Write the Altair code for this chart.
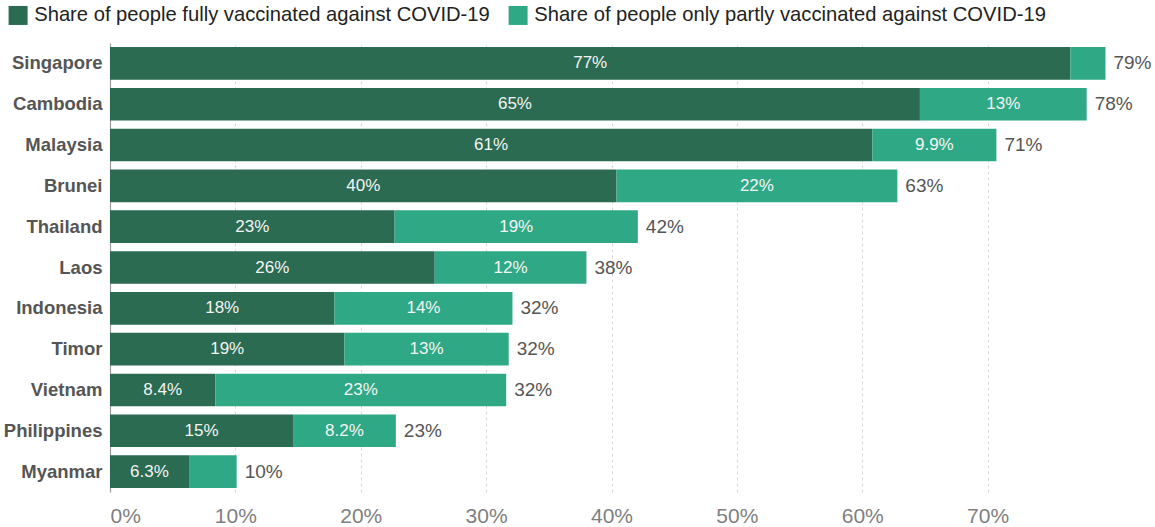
import altair as alt
import pandas as pd

countries = ["Singapore", "Cambodia", "Malaysia", "Brunei", "Thailand", "Laos",
             "Indonesia", "Timor", "Vietnam", "Philippines", "Myanmar"]
fully = [76.6, 64.6, 60.8, 40.4, 22.7, 25.9, 17.9, 18.7, 8.4, 14.6, 6.3]
partly = [2.8, 13.3, 9.9, 22.4, 19.4, 12.1, 14.2, 13.1, 23.2, 8.2, 3.8]
series_names = ["Share of people fully vaccinated against COVID-19",
                "Share of people only partly vaccinated against COVID-19"]
colors = ["#2a6b52", "#2fa985"]
x_ticks = [0, 10, 20, 30, 40, 50, 60, 70]

rows = []
for c, f, p in zip(countries, fully, partly):
    rows.append({"country": c, "series": series_names[0], "value": f, "start": 0.0,
                 "order": 0, "total": f + p})
    rows.append({"country": c, "series": series_names[1], "value": p, "start": f,
                 "order": 1, "total": f + p})
df = pd.DataFrame(rows)
df["end"] = df["start"] + df["value"]
df["mid"] = df["start"] + df["value"] / 2

FONT = "Liberation Sans"
W, H = 1003, 449

y_enc = alt.Y("country:N", sort=countries, title=None,
              scale=alt.Scale(paddingInner=0.2, paddingOuter=0.1),
              axis=alt.Axis(labelFont=FONT, labelFontWeight="bold", labelFontSize=18.5,
                            labelColor="#555555", labelPadding=8, ticks=False,
                            domain=True, domainColor="#9a9a9a", domainWidth=1.2,
                            grid=False))
x_scale = alt.Scale(domain=[0, 80], nice=False)

base = alt.Chart(df)

bars = base.mark_bar().encode(
    y=y_enc,
    x=alt.X("start:Q", scale=x_scale, title=None,
            axis=alt.Axis(values=x_ticks, labelExpr="datum.value + '%'",
                          labelFont=FONT, labelFontSize=21, labelColor="#808080",
                          labelPadding=13, labelFlush=True, ticks=False, domain=False,
                          grid=True, gridDash=[3, 3], gridColor="#d8d8d8",
                          gridWidth=1)),
    x2="end:Q",
    color=alt.Color("series:N", sort=series_names,
                    scale=alt.Scale(domain=series_names, range=colors),
                    legend=alt.Legend(title=None, orient="none", direction="horizontal",
                                      legendX=-102, legendY=-38,
                                      symbolType="square", symbolSize=361,
                                      symbolStrokeWidth=0, symbolOpacity=1,
                                      labelFont=FONT, labelFontSize=20.2,
                                      labelColor="#222222", labelLimit=800,
                                      labelOffset=6, columnPadding=18)),
)

inner = base.transform_filter("datum.value >= 5").transform_calculate(
    lab="format(datum.value, '.2r') + '%'"
).mark_text(font=FONT, fontSize=17, color="#f4f4f4").encode(
    y=alt.Y("country:N", sort=countries),
    x=alt.X("mid:Q", scale=x_scale),
    text="lab:N",
)

totals = base.transform_filter("datum.order == 1").transform_calculate(
    lab="format(datum.total, '.2r') + '%'"
).mark_text(font=FONT, fontSize=19, color="#555555", align="left", dx=8).encode(
    y=alt.Y("country:N", sort=countries),
    x=alt.X("total:Q", scale=x_scale),
    text="lab:N",
)

chart = alt.layer(bars, inner, totals).properties(
    width=W, height=H,
    background="white",
    autosize=alt.AutoSizeParams(type="none"),
    padding={"left": 110, "top": 43, "right": 42, "bottom": 35},
).configure_view(stroke=None)

chart.save("out.html", embed_options={"renderer": "svg", "actions": False})
